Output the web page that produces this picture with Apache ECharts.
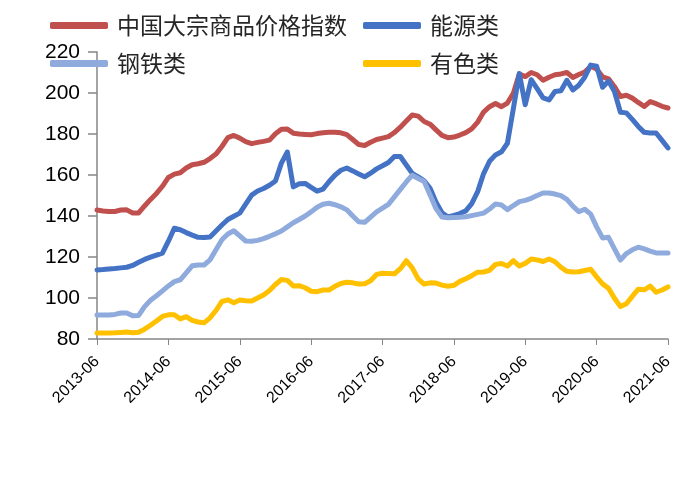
<!DOCTYPE html>
<html>
<head>
<meta charset="utf-8">
<script src="https://cdn.jsdelivr.net/npm/echarts@6/dist/echarts.min.js"></script>
<style>
html,body{margin:0;padding:0;background:#fff;}
#chart{width:691px;height:486px;}
</style>
</head>
<body>
<div id="chart"></div>
<script>
// Tick labels shown on the x axis (every 12th month)
const tickLabels = ['2013-06','2014-06','2015-06','2016-06','2017-06','2018-06','2019-06','2020-06','2021-06'];

// Series names
const seriesNames = ['中国大宗商品价格指数', '能源类', '钢铁类', '有色类'];

// 中国大宗商品价格指数
const ccpi = [142.9,142.4,142.2,142.2,142.9,143.0,141.5,141.5,144.9,148.1,151.0,154.5,158.8,160.4,161.1,163.4,165.0,165.5,166.2,168.0,170.2,173.9,178.2,179.3,178.0,176.3,175.3,175.9,176.4,177.0,180.1,182.3,182.4,180.4,180.0,179.8,179.6,180.2,180.6,180.8,180.9,180.6,179.7,177.3,174.9,174.4,176.0,177.3,178.0,178.7,180.7,183.3,186.3,189.3,188.7,186.1,184.8,182.0,179.3,178.2,178.5,179.5,180.7,182.5,185.8,190.7,193.3,194.9,193.3,195.1,199.9,209.3,208.0,210.0,208.9,206.2,207.7,208.9,209.3,210.0,207.6,209.0,210.2,213.1,211.7,207.9,206.9,203.1,198.3,198.9,197.5,195.4,193.4,195.8,194.8,193.5,192.7];

// 能源类
const energy = [113.7,113.9,114.2,114.4,114.7,115.0,115.9,117.4,118.8,119.9,120.9,121.9,127.7,134.0,133.3,131.9,130.7,129.6,129.5,129.8,132.7,135.6,138.3,139.9,141.4,145.8,150.2,152.2,153.4,155.0,157.1,165.8,171.2,154.2,155.7,155.9,154.0,152.1,153.1,156.7,159.9,162.3,163.4,162.0,160.5,159.1,160.9,163.0,164.5,166.1,169.0,169.0,164.9,160.8,159.1,157.2,153.5,146.7,141.6,139.5,140.3,141.2,142.5,146.0,151.9,160.7,166.7,169.8,171.3,175.5,192.4,209.5,194.3,206.5,202.1,197.6,196.6,200.7,201.1,206.2,201.5,203.8,207.7,213.6,213.1,202.8,205.8,200.7,190.6,190.3,187.1,183.7,180.8,180.5,180.5,176.9,173.2];

// 钢铁类
const steel = [91.7,91.7,91.7,92.0,92.7,92.7,91.3,91.5,95.8,98.9,101.1,103.5,105.9,108.0,108.9,112.3,115.7,116.1,116.1,118.6,123.5,128.4,131.2,132.8,130.3,127.8,127.7,128.1,129.0,130.1,131.3,132.7,134.7,136.7,138.3,140.0,142.0,144.3,145.7,146.2,145.5,144.5,143.0,140.0,137.2,136.9,139.5,142.0,143.8,145.7,149.3,153.0,156.6,159.9,158.3,156.8,150.2,143.6,139.5,139.1,139.3,139.4,139.6,140.2,140.8,141.4,143.4,145.9,145.4,143.1,145.1,147.0,147.6,148.6,150.0,151.2,151.2,150.7,149.9,148.1,144.8,142.1,143.3,140.9,134.7,129.3,129.6,124.0,118.5,121.7,123.5,124.8,124.0,122.9,122.0,122.0,122.0];

// 有色类
const nonferrous = [82.9,82.9,82.9,83.0,83.2,83.4,83.1,83.3,84.8,86.7,88.8,91.0,91.8,91.8,89.8,90.9,89.1,88.3,87.9,90.3,93.9,98.3,99.1,97.7,99.0,98.7,98.5,100.0,101.5,103.7,106.6,109.0,108.6,105.9,106.0,105.0,103.3,103.1,103.9,103.9,105.7,107.1,107.7,107.4,106.8,107.0,108.4,111.5,112.1,112.0,111.8,114.3,118.2,114.7,109.3,106.8,107.4,107.3,106.3,105.7,106.2,108.1,109.4,110.9,112.6,112.7,113.5,116.4,116.8,115.6,118.2,115.6,116.9,119.0,118.6,117.8,119.0,117.7,115.0,113.0,112.7,112.8,113.4,114.0,110.3,106.9,104.8,99.9,95.8,97.2,100.8,104.3,104.0,105.8,102.8,103.9,105.4];

// Month categories (one per data point); tick labels fall on every 12th
const categories = [];
for (let i = 0; i < ccpi.length; i++) {
  const m = 5 + i;
  const y = 2013 + Math.floor(m / 12);
  const mm = (m % 12) + 1;
  categories.push(y + '-' + (mm < 10 ? '0' + mm : '' + mm));
}

const colors = ['#C0504D', '#4472C4', '#8FAADC', '#FFC000'];
const dataSets = [ccpi, energy, steel, nonferrous];

const legendBase = {
  icon: 'roundRect',
  itemWidth: 58,
  itemHeight: 7,
  textStyle: { fontSize: 23, fontFamily: 'Noto Sans CJK SC', color: '#262626', padding: [0, 0, 0, 4] }
};

const chart = echarts.init(document.getElementById('chart'));
chart.setOption({
  animation: false,
  color: colors,
  legend: [
    Object.assign({ data: [seriesNames[0]], left: 45, top: 9 }, legendBase),
    Object.assign({ data: [seriesNames[1]], left: 358, top: 9 }, legendBase),
    Object.assign({ data: [seriesNames[2]], left: 45, top: 47 }, legendBase),
    Object.assign({ data: [seriesNames[3]], left: 358, top: 47 }, legendBase)
  ],
  grid: { left: 97, right: 23, top: 52, bottom: 147, containLabel: false },
  xAxis: {
    type: 'category',
    data: categories,
    boundaryGap: false,
    axisLine: { show: true, lineStyle: { color: '#868686', width: 1.5 } },
    axisTick: { show: true, interval: 11, length: 6, lineStyle: { color: '#868686' } },
    axisLabel: {
      interval: 11,
      rotate: 45,
      fontSize: 16,
      fontFamily: 'Liberation Sans',
      color: '#000',
      margin: 20,
      formatter: function (v, idx) { return tickLabels[Math.round(idx / 12)] || v; }
    },
    splitLine: { show: false }
  },
  yAxis: {
    type: 'value',
    min: 80,
    max: 220,
    interval: 20,
    axisLine: { show: true, lineStyle: { color: '#868686', width: 1.5 } },
    axisTick: { show: true, length: 9, lineStyle: { color: '#868686', width: 1.5 } },
    axisLabel: { fontSize: 21, fontFamily: 'Liberation Sans', color: '#000', margin: 17 },
    splitLine: { show: false }
  },
  series: seriesNames.map(function (n, k) {
    return {
      name: n,
      type: 'line',
      data: dataSets[k],
      symbol: 'none',
      lineStyle: { width: 5, color: colors[k], cap: 'round', join: 'round' },
      itemStyle: { color: colors[k] },
      z: 2 + k
    };
  })
});
</script>
</body>
</html>
